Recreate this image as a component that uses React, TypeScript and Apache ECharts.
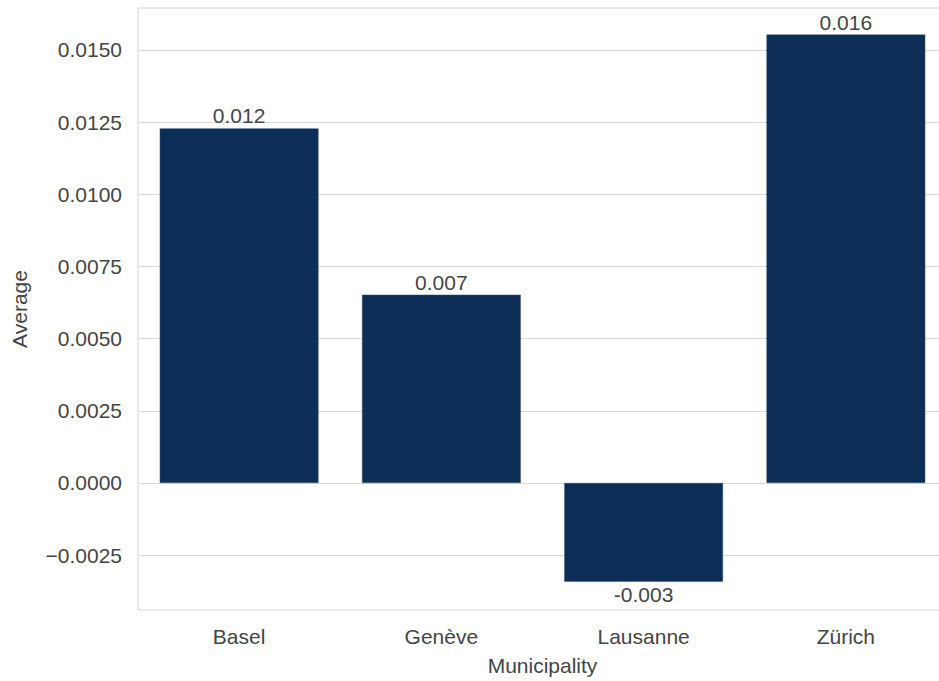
import React, { useEffect, useRef } from "react";
import * as echarts from "echarts";

const categories = ["Basel", "Genève", "Lausanne", "Zürich"];
const averages = [0.01228, 0.00652, -0.00342, 0.01553];
const yTicks = [-0.0025, 0, 0.0025, 0.005, 0.0075, 0.01, 0.0125, 0.015];
const yMin = -0.0044;
const yMax = 0.01645;

const FONT = "'Liberation Sans', Arial, sans-serif";
const TEXT = "#454545";

export default function App() {
  const ref = useRef<HTMLDivElement>(null);
  useEffect(() => {
    if (!ref.current) return;
    const chart = echarts.init(ref.current, undefined, { renderer: "svg" });
    chart.setOption({
      animation: false,
      backgroundColor: "#ffffff",
      textStyle: { fontFamily: FONT },
      grid: {
        left: 138,
        right: 1,
        top: 8,
        bottom: 71,
        show: true,
        borderColor: "#d4d4d4",
        borderWidth: 1,
        containLabel: false,
      },
      xAxis: {
        type: "category",
        data: categories,
        name: "Municipality",
        nameLocation: "middle",
        nameGap: 45,
        nameTextStyle: { fontSize: 21, color: TEXT, fontFamily: FONT },
        axisLine: { show: false },
        axisTick: { show: false },
        axisLabel: { fontSize: 21, color: TEXT, margin: 16, fontFamily: FONT },
        splitLine: { show: false },
      },
      yAxis: {
        type: "value",
        min: yMin,
        max: yMax,
        name: "Average",
        nameLocation: "middle",
        nameGap: 108,
        nameTextStyle: { fontSize: 21, color: TEXT, fontFamily: FONT },
        axisLine: { show: false },
        axisTick: { show: false, customValues: yTicks },
        axisLabel: {
          customValues: yTicks,
          fontSize: 21,
          color: TEXT,
          margin: 16,
          fontFamily: FONT,
          formatter: (v: number) => {
            const s = Math.abs(v).toFixed(4);
            return v < -1e-12 ? "\u2212" + s : s;
          },
        },
        splitLine: { show: true, lineStyle: { color: "#d9d9d9", width: 1 } },
      },
      series: [
        {
          type: "bar",
          data: averages,
          barCategoryGap: "21.5%",
          itemStyle: { color: "#0c2d55", borderColor: "#3a5577", borderWidth: 0.5 },
          label: {
            show: true,
            position: "outside",
            distance: 2,
            fontSize: 21,
            color: TEXT,
            fontFamily: FONT,
            formatter: (p: any) => (p.value as number).toFixed(3),
          },
        },
      ],
    });
    return () => chart.dispose();
  }, []);
  return (
    <div style={{ width: 939, height: 681, position: "absolute", left: 0, top: 0, overflow: "hidden", background: "#fff" }}>
      <div ref={ref} style={{ width: 948, height: 681 }} />
    </div>
  );
}
